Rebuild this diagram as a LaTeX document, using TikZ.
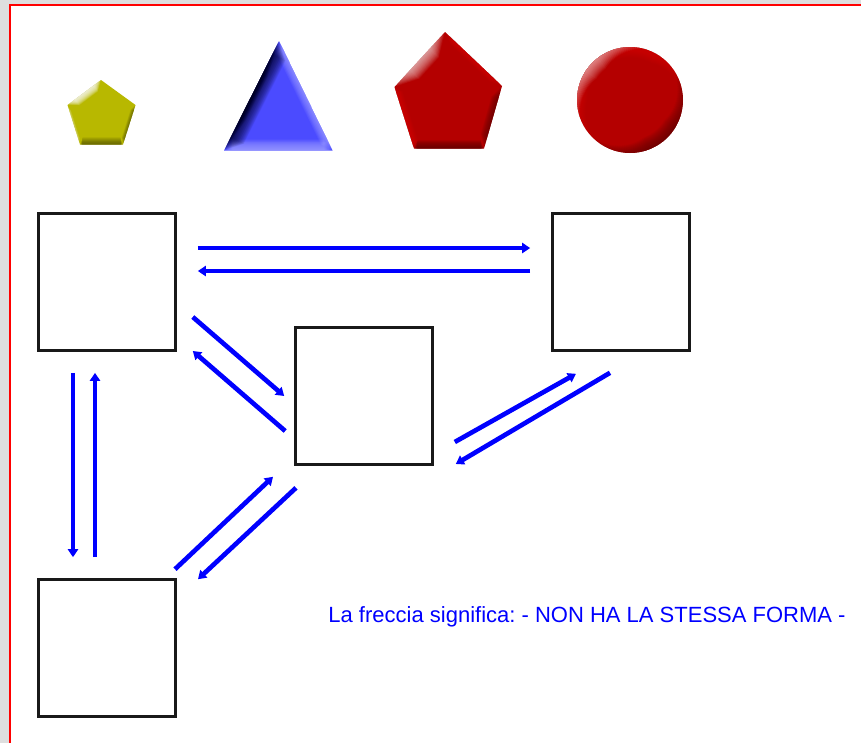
\documentclass[tikz,border=0pt]{standalone}
\usepackage{fontspec}
\setmainfont{Liberation Sans}
\usetikzlibrary{arrows.meta,calc}
\definecolor{chrome}{HTML}{DEDEDE}
\definecolor{frame}{HTML}{FF0000}
\definecolor{arrowblue}{HTML}{0000FF}
\definecolor{yel}{HTML}{B8B800}
\definecolor{yeldark}{HTML}{4A4A00}
\definecolor{tri}{HTML}{4B4BFF}
\definecolor{trilight}{HTML}{B5B5FF}
\definecolor{trinavy}{HTML}{000028}
\definecolor{redbase}{HTML}{B40000}
\definecolor{reddark}{HTML}{5A0000}
\definecolor{redlight}{HTML}{D80808}
\tikzset{
  squarebox/.style={draw=black!90,line width=2.2pt,fill=white,minimum size=103.2pt,inner sep=0pt,outer sep=0pt},
  linkarrow/.style={draw=arrowblue,line width=3.5pt,-{Triangle[length=6pt,width=7.5pt]}},
  caption/.style={text=arrowblue,font=\fontsize{16.5pt}{20pt}\selectfont,inner sep=0pt}
}
% a soft bevel along one edge: layers of thin translucent strokes
\newcommand{\bevseg}[6]{%
  \foreach \i in {1,...,24}{%
    \pgfmathsetmacro{\wd}{\i*#4/24}%
    \pgfmathsetmacro{\tp}{#6*\i/24}%
    \pgfmathsetmacro{\tq}{1-\tp}%
    \draw[color=#3,line width=\wd pt,opacity=#5]
      ($(#1)!\tp!(#2)$) -- ($(#1)!\tq!(#2)$);
  }}
\newcommand{\bevarc}[6]{% start, end, colour, maxwidth, opacity, taper
  \foreach \i in {1,...,24}{%
    \pgfmathsetmacro{\wd}{\i*#4/24}%
    \pgfmathsetmacro{\aa}{#1+#6*\i/24}%
    \pgfmathsetmacro{\bb}{#2-#6*\i/24}%
    \draw[color=#3,line width=\wd pt,opacity=#5]
      plot[domain=\aa:\bb,samples=30,smooth] ({630+53*cos(\x)},{100+53*sin(\x)});
  }}
\begin{document}
\begin{tikzpicture}[x=.75pt,y=-.75pt]
\useasboundingbox (0,0) rectangle (861,743);
% window
\fill[chrome] (0,0) rectangle (861,743);
\fill[white] (10,5) rectangle (861,743);
\draw[frame,line width=2.2pt] (861,5) -- (10,5) -- (10,743);

% yellow pentagon
\coordinate (y1) at (101,80);
\coordinate (y2) at (135.5,105);
\coordinate (y3) at (123,144.5);
\coordinate (y4) at (80,144.5);
\coordinate (y5) at (67.5,105);
\begin{scope}
  \clip (y1) -- (y2) -- (y3) -- (y4) -- (y5) -- cycle;
  \fill[yel] (60,70) rectangle (140,150);
  \bevseg{y5}{y1}{white}{11}{.07}{.22}
  \bevseg{y3}{y4}{yeldark}{11}{.045}{.06}
  \bevseg{y2}{y3}{yeldark}{5}{.03}{.15}
  \bevseg{y4}{y5}{white}{3}{.02}{.15}
\end{scope}

% blue triangle
\coordinate (t1) at (279,41);
\coordinate (t2) at (332.5,150.5);
\coordinate (t3) at (224,150.5);
\begin{scope}
  \clip (t1) -- (t2) -- (t3) -- cycle;
  \fill[tri] (220,35) rectangle (340,155);
  \bevseg{t3}{t2}{trilight}{17}{.05}{.08}
  \bevseg{t1}{t2}{trilight}{12}{.04}{.08}
  \bevseg{t3}{t1}{trinavy}{22}{.06}{.12}
  \bevseg{t3}{t1}{black}{9}{.03}{.30}
\end{scope}

% red pentagon
\coordinate (r1) at (445,32);
\coordinate (r2) at (502,86);
\coordinate (r3) at (484,148.5);
\coordinate (r4) at (414,148.5);
\coordinate (r5) at (394.5,87);
\begin{scope}
  \clip (r1) -- (r2) -- (r3) -- (r4) -- (r5) -- cycle;
  \fill[redbase] (390,28) rectangle (506,152);
  \bevseg{r1}{r2}{redlight}{8}{.05}{.15}
  \bevseg{r4}{r5}{redlight}{10}{.05}{.10}
  \bevseg{r5}{r1}{white}{19}{.04}{.30}
  \bevseg{r3}{r4}{reddark}{13}{.05}{.05}
  \bevseg{r2}{r3}{reddark}{11}{.04}{.20}
\end{scope}

% red disc
\begin{scope}
  \clip (630,100) circle[radius=53];
  \fill[redbase] (570,40) rectangle (690,160);
  \bevarc{130}{350}{redlight}{16}{.05}{50}
  \bevarc{160}{285}{white}{20}{.032}{52}
  \bevarc{-35}{135}{reddark}{20}{.045}{65}
\end{scope}

% squares
\node[squarebox] (A) at (107,282) {};
\node[squarebox] (B) at (621,282) {};
\node[squarebox] (C) at (364,396) {};
\node[squarebox] (D) at (107,648) {};

% connectors
\draw[linkarrow] ([shift={(22,-34)}]A.east) -- ([shift={(-22,-34)}]B.west);
\draw[linkarrow] ([shift={(-22,-11)}]B.west) -- ([shift={(22,-11)}]A.east);
\draw[linkarrow] ([shift={(17,35)}]A.east) -- ([shift={(-11,0)}]C.west);
\draw[linkarrow] ([shift={(-10,35)}]C.west) -- ([shift={(17,69)}]A.east);
\draw[linkarrow] ([shift={(-34,22)}]A.south) -- ([shift={(-34,-22)}]D.north);
\draw[linkarrow] ([shift={(-12,-22)}]D.north) -- ([shift={(-12,22)}]A.south);
\draw[linkarrow] ([shift={(68,-10)}]D.north) -- ([shift={(-91,12)}]C.south);
\draw[linkarrow] ([shift={(-68,23)}]C.south) -- ([shift={(91,0)}]D.north);
\draw[linkarrow] ([shift={(22,46)}]C.east) -- ([shift={(-45,23)}]B.south);
\draw[linkarrow] ([shift={(-11,22)}]B.south) -- ([shift={(23,68)}]C.east);

\node[caption] (note) at (587,617) {\frenchspacing La freccia significa: - NON HA LA STESSA FORMA -};
\end{tikzpicture}
\end{document}
